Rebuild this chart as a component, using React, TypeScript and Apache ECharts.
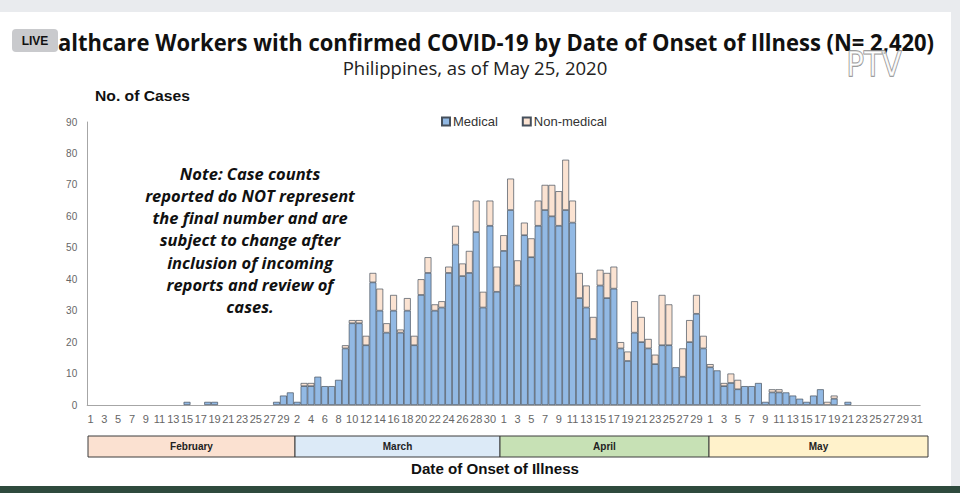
import React, { useEffect, useRef } from "react";
import * as echarts from "echarts";

// ---- Data ----
const monthNames = ["February", "March", "April", "May"];
const monthDays = [29, 31, 30, 31];

const medicalFeb = [0, 0, 0, 0, 0, 0, 0, 0, 0, 0, 0, 0, 0, 0, 1, 0, 0, 1, 1, 0, 0, 0, 0, 0, 0, 0, 0, 1, 3];
const nonMedicalFeb = [0, 0, 0, 0, 0, 0, 0, 0, 0, 0, 0, 0, 0, 0, 0, 0, 0, 0, 0, 0, 0, 0, 0, 0, 0, 0, 0, 0, 0];

const medicalMar = [4, 1, 6, 6, 9, 6, 6, 8, 18, 26, 26, 19, 39, 30, 23, 30, 23, 30, 19, 35, 42, 30, 31, 42, 51, 41, 42, 55, 31, 57, 36];
const nonMedicalMar = [0, 0, 1, 1, 0, 0, 0, 0, 1, 1, 1, 3, 3, 7, 3, 5, 1, 4, 3, 5, 5, 2, 2, 2, 6, 4, 7, 10, 5, 8, 8];

const medicalApr = [49, 62, 38, 54, 47, 57, 62, 60, 57, 62, 58, 34, 31, 21, 38, 34, 37, 18, 14, 23, 20, 18, 13, 19, 19, 12, 9, 20, 29, 18];
const nonMedicalApr = [5, 10, 8, 4, 6, 8, 8, 10, 11, 16, 7, 8, 7, 7, 5, 8, 7, 2, 3, 10, 8, 3, 3, 16, 13, 0, 9, 7, 6, 4];

const medicalMay = [12, 11, 6, 7, 5, 6, 6, 7, 1, 4, 4, 4, 3, 2, 1, 3, 5, 0, 2, 0, 1, 0, 0, 0, 0, 0, 0, 0, 0, 0, 0];
const nonMedicalMay = [1, 0, 1, 3, 3, 0, 0, 0, 0, 1, 1, 0, 0, 0, 0, 0, 0, 1, 1, 0, 0, 0, 0, 0, 0, 0, 0, 0, 0, 0, 0];

const yMax = 90;
const yInterval = 10;

const titleText = "althcare Workers with confirmed COVID-19 by Date of Onset of Illness (N= 2,420)";
const subtitleText = "Philippines, as of May 25, 2020";
const yNameText = "No. of Cases";
const xNameText = "Date of Onset of Illness";
const noteLines = [
  "Note: Case counts",
  "reported do NOT represent",
  "the final number and are",
  "subject to change after",
  "inclusion of incoming",
  "reports and review of",
  "cases.",
];

const monthFill = ["#FBE1D1", "#DCEAF7", "#C7E1B5", "#FFF2CB"];

function measure(text: string, font: string): number {
  const ctx = document.createElement("canvas").getContext("2d");
  if (!ctx) return text.length * 10;
  ctx.font = font;
  return ctx.measureText(text).width;
}

export default function App() {
  const ref = useRef<HTMLDivElement>(null);

  useEffect(() => {
    document.body.style.margin = "0";
    if (!ref.current) return;
    const chart = echarts.init(ref.current, null, { renderer: "svg" });

    const categories: string[] = [];
    monthNames.forEach((m, mi) => {
      for (let d = 1; d <= monthDays[mi]; d++) categories.push(m.slice(0, 3) + " " + d);
    });
    const medical = [...medicalFeb, ...medicalMar, ...medicalApr, ...medicalMay].map((v) => (v === 0 ? "-" : v));
    const nonMedical = [...nonMedicalFeb, ...nonMedicalMar, ...nonMedicalApr, ...nonMedicalMay].map((v) =>
      v === 0 ? "-" : v
    );

    const titleFont = "bold 24px 'Open Sans'";
    const titleScale = 877 / measure(titleText, titleFont);
    const subFont = "18px 'Open Sans'";
    const subScale = 265 / measure(subtitleText, subFont);
    const xNameFont = "bold 15px 'Liberation Sans'";
    const xNameScale = 168 / measure(xNameText, xNameFont);
    const yNameFont = "bold 14px 'Liberation Sans'";
    const yNameScale = 95 / measure(yNameText, yNameFont);

    // month band (table drawn under the chart)
    const bandEdges = [88, 295, 500, 709, 928];
    const bandTop = 436;
    const bandH = 21;

    const graphics: any[] = [];
    // page frame
    graphics.push({ type: "rect", shape: { x: 0, y: 0, width: 960, height: 12 }, style: { fill: "#E9EBEE" }, z: 0 });
    graphics.push({ type: "rect", shape: { x: 951, y: 0, width: 9, height: 493 }, style: { fill: "#E9EBEE" }, z: 0 });
    graphics.push({ type: "rect", shape: { x: 0, y: 486, width: 960, height: 7 }, style: { fill: "#2E4A3D" }, z: 0 });

    graphics.push({
      type: "text",
      x: 58,
      y: 42,
      scaleX: titleScale,
      style: { text: titleText, font: titleFont, fill: "#111111", textAlign: "left", textVerticalAlign: "middle" },
    });
    graphics.push({
      type: "text",
      x: 475,
      y: 68,
      scaleX: subScale,
      style: { text: subtitleText, font: subFont, fill: "#222222", textAlign: "center", textVerticalAlign: "middle" },
    });
    graphics.push({
      type: "text",
      x: 95,
      y: 96,
      scaleX: yNameScale,
      style: { text: yNameText, font: yNameFont, fill: "#111111", textAlign: "left", textVerticalAlign: "middle" },
    });
    noteLines.forEach((line, i) => {
      graphics.push({
        type: "text",
        x: 250,
        y: 173 + i * 22.3,
        style: {
          text: line,
          font: "italic bold 16.5px 'Open Sans'",
          fill: "#111111",
          textAlign: "center",
          textVerticalAlign: "middle",
        },
      });
    });
    monthNames.forEach((m, i) => {
      graphics.push({
        type: "rect",
        shape: { x: bandEdges[i], y: bandTop, width: bandEdges[i + 1] - bandEdges[i], height: bandH },
        style: { fill: monthFill[i], stroke: "#3C3C3C", lineWidth: 1 },
      });
      graphics.push({
        type: "text",
        x: (bandEdges[i] + bandEdges[i + 1]) / 2,
        y: bandTop + bandH / 2,
        style: {
          text: m,
          font: "bold 10px 'Liberation Sans'",
          fill: "#222222",
          textAlign: "center",
          textVerticalAlign: "middle",
        },
      });
    });
    graphics.push({
      type: "text",
      x: 495,
      y: 469,
      scaleX: xNameScale,
      style: { text: xNameText, font: xNameFont, fill: "#111111", textAlign: "center", textVerticalAlign: "middle" },
    });
    // LIVE badge
    graphics.push({
      type: "rect",
      shape: { x: 12, y: 29, width: 46, height: 23, r: 4 },
      style: { fill: "#C9CACD" },
      z: 10,
    });
    graphics.push({
      type: "text",
      x: 35,
      y: 40.5,
      z: 11,
      style: {
        text: "LIVE",
        font: "bold 12px 'Liberation Sans'",
        fill: "#111111",
        textAlign: "center",
        textVerticalAlign: "middle",
      },
    });
    // PTV watermark
    graphics.push({
      type: "text",
      x: 874,
      y: 64,
      z: 9,
      scaleX: 0.85,
      style: {
        text: "PTV",
        font: "34px 'DejaVu Sans'",
        fill: "rgba(255,255,255,0.7)",
        stroke: "#8A8A8A",
        lineWidth: 1.4,
        textAlign: "center",
        textVerticalAlign: "middle",
      },
    });

    const option: any = {
      animation: false,
      backgroundColor: "#FFFFFF",
      textStyle: { fontFamily: "'Liberation Sans', Arial, sans-serif" },
      legend: {
        left: 441,
        top: 115,
        padding: 0,
        itemWidth: 8,
        itemHeight: 8,
        itemGap: 24,
        icon: "rect",
        textStyle: { fontSize: 13, color: "#333333", padding: [0, 0, 0, -2] },
        data: ["Medical", "Non-medical"],
      },
      grid: { left: 87.2, width: 833, top: 122, bottom: 88, containLabel: false },
      xAxis: {
        type: "category",
        data: categories,
        axisLine: { show: true, lineStyle: { color: "#A6A6A6", width: 1 } },
        axisTick: { show: false },
        axisLabel: {
          interval: 1,
          color: "#666666",
          fontSize: 11,
          margin: 8,
          formatter: (v: string) => v.split(" ")[1],
        },
      },
      yAxis: {
        type: "value",
        min: 0,
        max: yMax,
        interval: yInterval,
        axisLine: { show: true, lineStyle: { color: "#A6A6A6", width: 1 } },
        axisTick: { show: false },
        splitLine: { show: false },
        axisLabel: { color: "#666666", fontSize: 10, margin: 10 },
      },
      series: [
        {
          name: "Medical",
          type: "bar",
          stack: "cases",
          barCategoryGap: "0%",
          data: medical,
          itemStyle: { color: "#92B9E4", borderColor: "#46505C", borderWidth: 0.7 },
        },
        {
          name: "Non-medical",
          type: "bar",
          stack: "cases",
          barCategoryGap: "0%",
          data: nonMedical,
          itemStyle: { color: "#FBE3D2", borderColor: "#46505C", borderWidth: 0.7 },
        },
      ],
      graphic: graphics,
    };

    chart.setOption(option);
    return () => chart.dispose();
  }, []);

  return <div ref={ref} style={{ width: 960, height: 493 }} />;
}
